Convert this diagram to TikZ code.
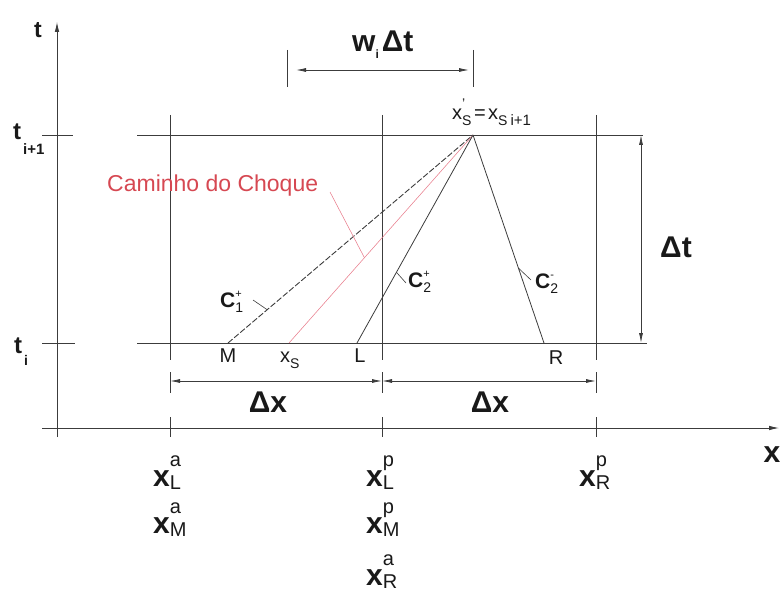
\documentclass[tikz,border=0pt]{standalone}
\usepackage{fontspec}
\setmainfont{Liberation Sans}
\usetikzlibrary{arrows.meta,calc}
\definecolor{lnc}{RGB}{60,60,60}
\definecolor{redtxt}{RGB}{214,72,82}
\definecolor{redln}{RGB}{232,125,140}
\newcommand{\fs}[1]{\fontsize{#1}{#1}\selectfont}
\newcommand{\Clab}[2]{{\fs{21}\bfseries C}\rlap{\raisebox{10pt}{\fs{11}#1}}\raisebox{-5pt}{\fs{14}#2}}
\newcommand{\xlab}[2]{{\fs{30}\bfseries x}\rlap{\raisebox{20pt}{\fs{20}#1}}\raisebox{-3pt}{\fs{20}#2}}
\begin{document}
\begin{tikzpicture}[x=1pt,y=-1pt,
  ln/.style={draw=lnc, line width=0.8pt},
  tipend/.style={-{Latex[length=10pt,width=4.5pt]}},
  dtips/.style={{Latex[length=10pt,width=4pt]}-{Latex[length=10pt,width=4pt]}},
  lab/.style={inner sep=0pt, anchor=base west, text=black!90},
  clab/.style={inner sep=0pt, anchor=base, text=black!90},
  ]
\useasboundingbox (0,0) rectangle (782,591);
% axes
\coordinate (tA) at (57,437); \coordinate (tB) at (57,22);
\coordinate (xA) at (42,428); \coordinate (xB) at (779,428);
\draw[ln,tipend] (tA) -- (tB);
\draw[ln,tipend] (xA) -- (xB);
% ticks on t axis
\coordinate (k1a) at (42,135); \coordinate (k1b) at (73,135);
\coordinate (k2a) at (42,343); \coordinate (k2b) at (75,343);
\draw[ln] (k1a) -- (k1b);
\draw[ln] (k2a) -- (k2b);
% grid
\coordinate (g1a) at (137,135); \coordinate (g1b) at (643,135);
\coordinate (g2a) at (137,343); \coordinate (g2b) at (647,343);
\draw[ln] (g1a) -- (g1b);
\draw[ln] (g2a) -- (g2b);
\foreach \xx/\nm in {170/a,382/b,596/c}{
  \coordinate (v\nm1) at (\xx,115); \coordinate (v\nm2) at (\xx,360);
  \draw[ln] (v\nm1) -- (v\nm2);
  \coordinate (d\nm1) at (\xx,372); \coordinate (d\nm2) at (\xx,393);
  \draw[ln] (d\nm1) -- (d\nm2);
  \coordinate (a\nm1) at (\xx,417); \coordinate (a\nm2) at (\xx,437);
  \draw[ln] (a\nm1) -- (a\nm2);
  \coordinate (r\nm) at (\xx,381);
}
% dx arrows
\draw[ln,dtips] (ra) -- (rb);
\draw[ln,dtips] (rb) -- (rc);
% dt arrow
\coordinate (dtA) at (641,135); \coordinate (dtB) at (641,343);
\draw[ln,dtips] (dtA) -- (dtB);
% w dt arrow
\coordinate (w1a) at (287,50); \coordinate (w1b) at (287,87);
\coordinate (w2a) at (473,50); \coordinate (w2b) at (473,87);
\draw[ln] (w1a) -- (w1b);
\draw[ln] (w2a) -- (w2b);
\coordinate (wA) at (296,70); \coordinate (wB) at (469,70);
\draw[ln,dtips] (wA) -- (wB);
% characteristic lines
\coordinate (top) at (473,135);
\coordinate (M) at (228,343);
\coordinate (xS) at (289,343);
\coordinate (L) at (357,343);
\coordinate (R) at (544,343);
\draw[ln, line width=0.9pt, dash pattern=on 6pt off 2pt] (M) -- (top);
\draw[draw=redln, line width=0.55pt] (xS) -- (top);
\draw[ln] (L) -- (top);
\draw[ln] (R) -- (top);
% leaders
\coordinate (c1s) at (253,300);
\coordinate (c1e) at ($(M)!0.16!(top)$);
\draw[ln, line width=0.6pt] (c1s) -- (c1e);
\coordinate (c2s) at ($(L)!0.34!(top)$);
\coordinate (c2e) at (406,283);
\draw[ln, line width=0.6pt] (c2s) -- (c2e);
\coordinate (c3s) at ($(R)!0.36!(top)$);
\coordinate (c3e) at (531,280);
\draw[ln, line width=0.6pt] (c3s) -- (c3e);
\coordinate (cms) at (330,192);
\coordinate (cme) at ($(xS)!0.41!(top)$);
\draw[draw=redln, line width=0.55pt] (cms) -- (cme);
% labels
\node[lab] (tlab) at (34,38) {\fs{23}\bfseries t};
\node[lab] (ti1) at (13,140) {\fs{24}\bfseries t\kern2pt\raisebox{-15pt}{\fs{15}i+1}};
\node[lab] (ti) at (14,353) {\fs{24}\bfseries t\kern2pt\raisebox{-12pt}{\fs{14}i}};
\node[lab] (wdt) at (352,52) {\fs{30}\bfseries w\raisebox{-7pt}{\fs{12}i}\kern3pt Δt};
\node[lab] (xst) at (452,120) {\fs{20}x\rlap{\raisebox{11pt}{\fs{14}'}}\raisebox{-6pt}{\fs{14}S}\kern2.5pt=\kern2.5pt x\raisebox{-6pt}{\fs{14}S\kern3pt\fs{15}i+1}};
\node[text=redtxt, inner sep=0pt, anchor=base west] (cam) at (107,192) {\fs{23}Caminho do Choque};
\node[lab] (C1) at (220,307) {\Clab{+}{1}};
\node[lab] (C2p) at (408,287) {\Clab{+}{2}};
\node[lab] (C2m) at (535,288) {\Clab{-}{2}};
\node[clab] (Mlab) at (228,362) {\fs{20}M};
\node[lab] (xSlab) at (280,362) {\fs{20}x\raisebox{-6pt}{\fs{14}S}};
\node[clab] (Llab) at (360,362) {\fs{20}L};
\node[clab] (Rlab) at (556,364) {\fs{20}R};
\node[clab] (dx1) at (268,412) {\fs{30}\bfseries Δx};
\node[clab] (dx2) at (490,412) {\fs{30}\bfseries Δx};
\node[clab] (dtl) at (676,257) {\fs{30}\bfseries Δt};
\node[clab] (xax) at (772,462) {\fs{30}\bfseries x};
\node[lab] (xLa) at (153,486) {\xlab{a}{L}};
\node[lab] (xMa) at (153,533) {\xlab{a}{M}};
\node[lab] (xLp) at (366,486) {\xlab{p}{L}};
\node[lab] (xMp) at (366,533) {\xlab{p}{M}};
\node[lab] (xRa) at (366,585) {\xlab{a}{R}};
\node[lab] (xRp) at (579,486) {\xlab{p}{R}};
\end{tikzpicture}
\end{document}
